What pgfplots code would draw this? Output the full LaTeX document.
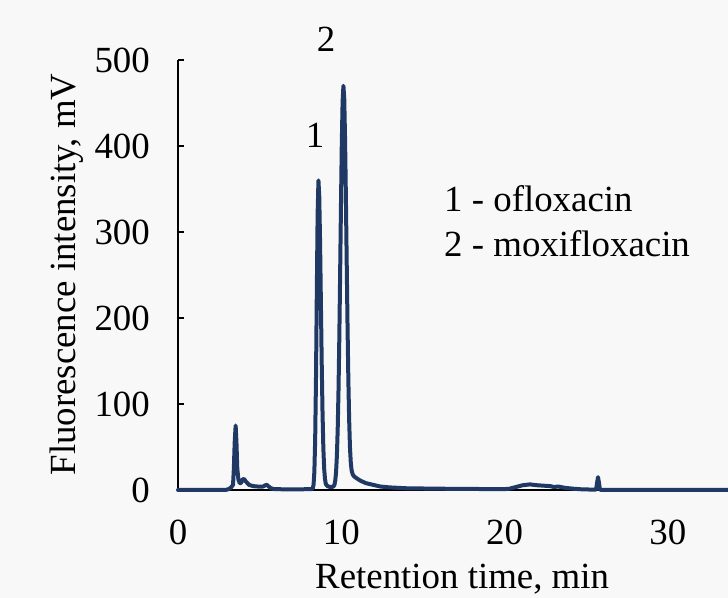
\documentclass[border=0pt]{standalone}
\usepackage{pgfplots}
\pgfplotsset{compat=1.18}
\usepackage{fontspec}
\setmainfont{Liberation Serif}
\definecolor{navy}{HTML}{203864}
\definecolor{bg}{HTML}{F8F8F8}
\begin{document}
\begin{tikzpicture}[font=\fontsize{37}{44}\selectfont, x=1bp, y=1bp]
\useasboundingbox (0,0) rectangle (728,598);
\clip (0,0) rectangle (728,598);
\fill[bg] (0,0) rectangle (728,598);
\begin{axis}[
  at={(178bp,108bp)}, anchor=south west,
  scale only axis, width=571.55bp, height=430bp,
  xmin=0, xmax=35, ymin=0, ymax=500,
  axis x line=bottom, axis y line=left,
  axis line style={-, line width=1.5bp, black},
  xtick={0,10,20,30}, ytick={0,100,...,500},
  tick align=inside, major tick length=6bp,
  tick style={line width=1.5bp, black},
  x tick style={draw=none},
  xticklabel style={inner sep=0pt, anchor=north, yshift=-30bp},
  yticklabel style={inner sep=0pt, anchor=east, xshift=-28bp},
  /pgf/number format/assume math mode=true,
  clip=false,
]
\addplot[navy, line width=4bp, line join=round, line cap=round] coordinates {
(0,0) (2.9,0) (3.1,1) (3.25,3) (3.37,6) (3.42,25) (3.47,55) (3.53,75) (3.58,55) (3.63,25) (3.70,12) (3.78,8) (3.85,8) (3.95,12) (4.04,13) (4.15,10) (4.35,6) (4.6,4.5) (4.9,4) (5.2,4) (5.35,5.5) (5.45,6) (5.55,4) (5.7,2) (5.9,1) (6.5,0.8) (7.5,0.8) (8.15,1)
(8.25,1.8) (8.30,6) (8.35,21) (8.40,59) (8.45,130) (8.50,229) (8.55,321) (8.60,360) (8.65,341) (8.70,288) (8.75,218) (8.80,148) (8.85,90) (8.90,49) (8.95,25) (9.00,13) (9.05,7) (9.15,4.5) (9.3,3.5) (9.45,3.5)
(9.53,4.5) (9.58,6) (9.63,11) (9.68,21) (9.73,40) (9.78,71) (9.83,117) (9.88,179) (9.93,254) (9.98,332) (10.03,403) (10.08,452) (10.13,470) (10.18,455) (10.23,408) (10.28,342) (10.33,266) (10.38,193) (10.43,130) (10.48,82) (10.53,50) (10.58,32) (10.63,23) (10.70,18) (10.80,15.5) (10.95,13.5) (11.15,11) (11.5,8) (11.94,6) (12.4,4) (12.98,3) (14,2) (16,1.5) (18,1.2) (20,1)
(20.3,1.5) (20.7,3.5) (21.1,5.5) (21.55,6.5) (22.0,5.5) (22.4,5) (22.8,4.5) (23.0,3.5) (23.3,4) (23.7,2.5) (24.2,1.5) (24.7,0.8) (25.3,0.5) (25.6,0.5) (25.66,8) (25.72,15) (25.78,8) (25.84,0.3) (26.5,0) (35,0)
};
\end{axis}
\node[anchor=base, inner sep=0pt] at (326,546) {2};
\node[anchor=base, inner sep=0pt] at (315,450) {1};
\node[anchor=base west, inner sep=0pt] at (444,386) {1 - ofloxacin};
\node[anchor=base west, inner sep=0pt] at (444,341) {2 - moxifloxacin};
\node[anchor=base west, inner sep=0pt] at (315,9) {Retention time, min};
\node[rotate=90, anchor=base, inner sep=0pt] at (75,323.5) {Fluorescence intensity, mV};
\end{tikzpicture}
\end{document}
